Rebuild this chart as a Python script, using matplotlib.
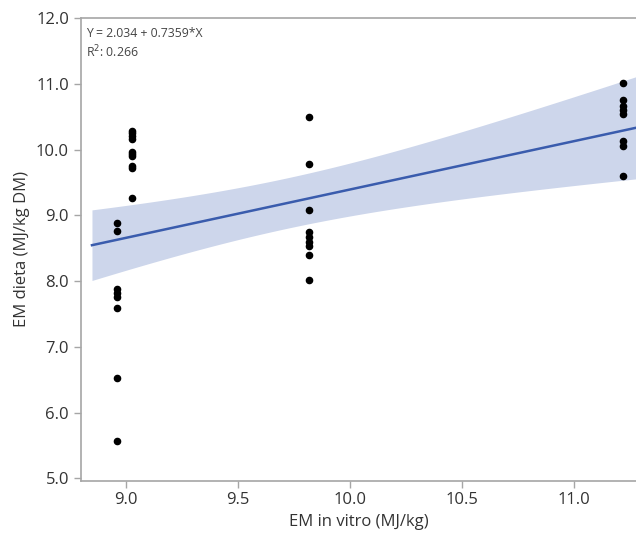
import numpy as np
import matplotlib.pyplot as plt

# EM in vitro (x) and EM dieta (y)
x_a = [8.96] * 8
y_a = [8.88, 8.77, 7.88, 7.82, 7.76, 7.59, 6.52, 5.57]
x_b = [9.03] * 10
y_b = [10.29, 10.25, 10.21, 10.16, 9.97, 9.93, 9.90, 9.75, 9.72, 9.26]
x_c = [9.82] * 9
y_c = [10.49, 9.78, 9.08, 8.74, 8.67, 8.60, 8.53, 8.40, 8.02]
x_d = [11.22] * 8
y_d = [11.02, 10.75, 10.67, 10.60, 10.54, 10.13, 10.06, 9.60]

intercept = 2.034
slope = 0.7359
r2 = 0.266
t_crit = 2.035  # t(0.975, df=33)

x = np.array(x_a + x_b + x_c + x_d)
y = np.array(y_a + y_b + y_c + y_d)

# confidence band of the mean around the fitted line
n = len(x)
resid = y - (intercept + slope * x)
s = np.sqrt(np.sum(resid ** 2) / (n - 2))
sxx = np.sum((x - x.mean()) ** 2)
xs = np.linspace(8.85, 11.3, 200)
fit = intercept + slope * xs
half = t_crit * s * np.sqrt(1 / n + (xs - x.mean()) ** 2 / sxx)

plt.rcParams['font.family'] = ['Open Sans', 'DejaVu Sans']
fig = plt.figure(figsize=(6.36, 5.36), dpi=100)
ax = fig.add_axes([0.127, 0.1035, 0.873, 0.8624])

ax.fill_between(xs, fit - half, fit + half, color='#cdd6eb', lw=0, zorder=1)
ax.plot(xs, fit, color='#3a5cad', lw=1.8, zorder=2)
ax.scatter(x, y, s=20, color='black', zorder=3)

ax.set_xlim(8.8, 11.278)
ax.set_ylim(4.965, 12.0)
ax.set_xticks([9.0, 9.5, 10.0, 10.5, 11.0])
ax.set_yticks(np.arange(5, 12.5, 1.0))
ax.xaxis.set_major_formatter(plt.FormatStrFormatter('%.1f'))
ax.yaxis.set_major_formatter(plt.FormatStrFormatter('%.1f'))

for side in ['left', 'bottom', 'top']:
    ax.spines[side].set_color('#a6a6a6')
    ax.spines[side].set_linewidth(1.2)
ax.spines['right'].set_visible(False)
ax.tick_params(colors='#a6a6a6', labelcolor='#333333', labelsize=12, length=5, width=1)

ax.set_xlabel('EM in vitro (MJ/kg)', fontsize=12, color='#333333', labelpad=4)
ax.set_ylabel('EM dieta (MJ/kg DM)', fontsize=12, color='#333333', labelpad=4)

ax.text(0.01, 0.982, 'Y = %.3f + %.4f*X\nR$^2$: %.3f' % (intercept, slope, r2),
        transform=ax.transAxes, ha='left', va='top', fontsize=8.8,
        color='#444444', linespacing=1.3)

fig.savefig('out.png', dpi=100)
